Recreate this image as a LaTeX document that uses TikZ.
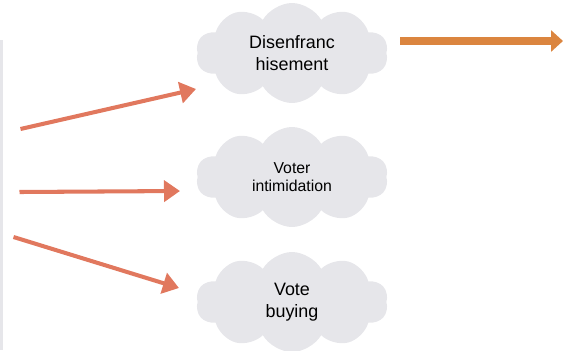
\documentclass[tikz,border=0pt]{standalone}
\usepackage{fontspec}
\setmainfont{Liberation Sans}
\usepackage{tikz}
\usetikzlibrary{positioning}
\usetikzlibrary{shapes.symbols}
\usetikzlibrary{arrows.meta}

\definecolor{cloudgray}{HTML}{E6E6EA}
\definecolor{salmon}{HTML}{E1785E}
\definecolor{darkorange}{HTML}{DB853F}

\tikzset{
	puff/.style={cloud,cloud puffs=10,cloud puff arc=120,cloud ignores aspect,fill=cloudgray,
		minimum width=3.84cm,minimum height=2cm,align=center,inner sep=0pt},
	redarrow/.style={salmon,line width=2.3pt,-{Triangle[length=0.32cm,width=0.42cm]}},
}

\begin{document}
\begin{tikzpicture}
			
			\useasboundingbox (0,0) rectangle (11.26,7);
			\fill[cloudgray] (0,0) rectangle (0.06,6.2);
			
			\node[puff,font=\fontsize{10.2}{12.4}\selectfont] (C1) at (5.84,5.94) {Disenfranc\\hisement};
			\node[puff,font=\fontsize{9}{10.6}\selectfont] (C2) at (5.84,3.46) {Voter\\intimidation};
			\node[puff,font=\fontsize{10.2}{12.4}\selectfont] (C3) at (5.84,0.96) {Vote\\buying};
			
			\coordinate (T1) at (0.41,4.42);
			\coordinate (H1) at (3.92,5.22);
			\coordinate (T2) at (0.39,3.16);
			\coordinate (H2) at (3.6,3.18);
			\coordinate (T3) at (0.27,2.26);
			\coordinate (H3) at (3.58,1.24);
			
			\draw[redarrow] (T1) -- (H1);
			\draw[redarrow] (T2) -- (H2);
			\draw[redarrow] (T3) -- (H3);
			
			\coordinate (O1) at (8.0,6.18);
			\coordinate (O2) at (11.26,6.18);
			
			\draw[darkorange,line width=4.4pt,-{Triangle[length=0.24cm,width=0.42cm]}] (O1) -- (O2);
			
		\end{tikzpicture}
\end{document}
